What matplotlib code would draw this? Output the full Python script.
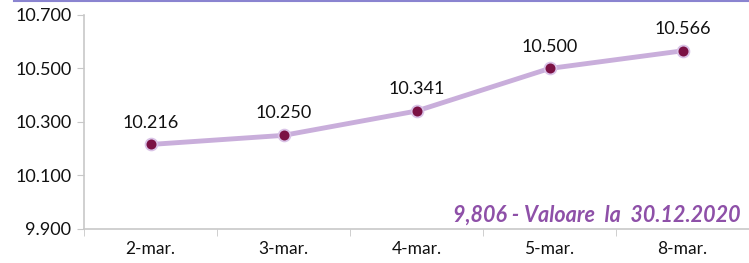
import matplotlib
matplotlib.use('Agg')
import matplotlib.pyplot as plt
import numpy as np

dates = ['2-mar.', '3-mar.', '4-mar.', '5-mar.', '8-mar.']
values = [10.216, 10.250, 10.341, 10.500, 10.566]
yticks = [9.900, 10.100, 10.300, 10.500, 10.700]
note = '9,806 - Valoare  la  30.12.2020'

plt.rcParams['font.family'] = ['Lato', 'DejaVu Sans']

fig = plt.figure(figsize=(7.49, 2.63), dpi=100)
ax = fig.add_axes([84/749, 1-229/263, 1-84/749, (229-15)/263])

x = np.arange(len(dates))
ax.plot(x, values, color='#c9aedb', lw=3.5, zorder=2)
ax.plot(x, values, ls='none', marker='o', ms=8.5, mfc='#7b1144',
        mec='#d9c2e6', mew=1.3, zorder=3)
for xi, v in zip(x, values):
    ax.annotate(f'{v:.3f}', (xi, v), xytext=(0, 10), textcoords='offset points',
                ha='center', va='bottom', fontsize=13, color='#111111')

ax.set_xlim(-0.5, 4.46)
ax.set_ylim(9.9, 10.7)
ax.set_yticks(yticks)
ax.set_yticklabels([f'{t:.3f}' for t in yticks], fontsize=13, color='#111111')
ax.set_xticks(x)
ax.set_xticklabels(dates, fontsize=12.5, color='#111111')
ax.set_xticks(np.arange(-0.5, 4.6, 1), minor=True)
ax.tick_params(axis='x', which='major', length=0, pad=9)
ax.tick_params(axis='x', which='minor', length=5, color='#c8c8c8', direction='out')
ax.tick_params(axis='y', length=5, color='#c8c8c8', direction='out', pad=4)

for s in ['top', 'right']:
    ax.spines[s].set_visible(False)
for s in ['left', 'bottom']:
    ax.spines[s].set_color('#c8c8c8')
    ax.spines[s].set_linewidth(1.2)

ax.text(0.988, 0.065, note, transform=ax.transAxes, ha='right', va='center',
        fontsize=15.5, fontweight='bold', fontstyle='italic', color='#8e50a8')

fig.add_artist(plt.Line2D([14/749, 1], [0.998, 0.998], color='#8a84d0', lw=1.5))

fig.savefig('out.png', dpi=100)
